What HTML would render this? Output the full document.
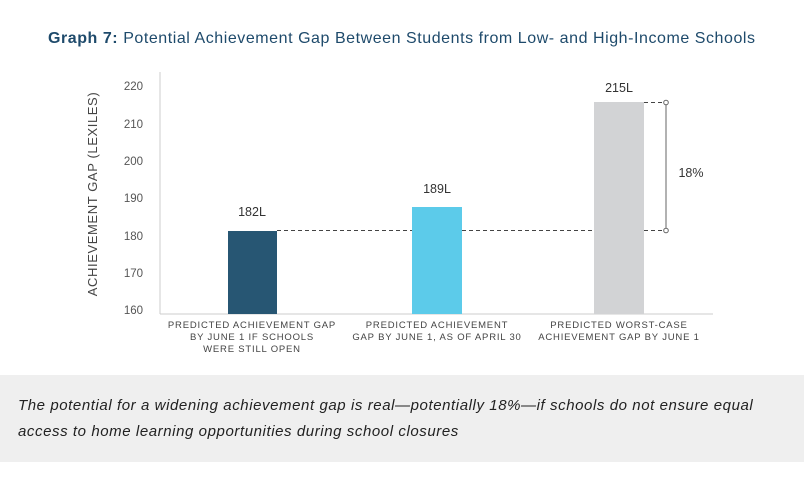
<!DOCTYPE html>
<html><head><meta charset="utf-8"><style>
body{margin:0;width:804px;height:477px;background:#fff;font-family:"Liberation Sans",sans-serif;position:relative;overflow:hidden}
.t{position:absolute;white-space:nowrap}
</style></head><body>
<div class="t" style="left:48px;top:30px;font-size:16px;letter-spacing:0.55px;color:#1e4a6b"><b>Graph 7:</b> Potential Achievement Gap Between Students from Low- and High-Income Schools</div>
<svg width="804" height="477" style="position:absolute;left:0;top:0" font-family="Liberation Sans, sans-serif">
<g fill="#555" font-size="11.5" text-anchor="end">
<text x="143" y="90">220</text><text x="143" y="128">210</text><text x="143" y="165">200</text>
<text x="143" y="202">190</text><text x="143" y="240">180</text><text x="143" y="277">170</text><text x="143" y="314">160</text>
</g>
<text transform="translate(97,194) rotate(-90)" text-anchor="middle" font-size="13" letter-spacing="0.6" fill="#444">ACHIEVEMENT GAP (LEXILES)</text>
<line x1="160" y1="72" x2="160" y2="314" stroke="#ccc"/>
<line x1="160" y1="314" x2="713" y2="314" stroke="#ccc"/>
<line x1="277" y1="230.5" x2="412" y2="230.5" stroke="#444" stroke-dasharray="4,3"/>
<line x1="462" y1="230.5" x2="594" y2="230.5" stroke="#444" stroke-dasharray="4,3"/>
<line x1="644" y1="230.5" x2="664" y2="230.5" stroke="#444" stroke-dasharray="4,3"/>
<line x1="644" y1="102.5" x2="664" y2="102.5" stroke="#444" stroke-dasharray="4,3"/>
<rect x="228" y="231" width="49" height="83" fill="#275673"/>
<rect x="412" y="207" width="50" height="107" fill="#5ccbea"/>
<rect x="594" y="102" width="50" height="212" fill="#d2d3d5"/>
<line x1="666" y1="103" x2="666" y2="230" stroke="#666"/>
<circle cx="666" cy="102.5" r="2.3" fill="#fff" stroke="#666"/>
<circle cx="666" cy="230.5" r="2.3" fill="#fff" stroke="#666"/>
<g font-size="12.5" fill="#333" text-anchor="middle">
<text x="252" y="216">182L</text><text x="437" y="193">189L</text><text x="619" y="92">215L</text>
<text x="691" y="177">18%</text>
</g>
<g font-size="9.5" fill="#444" text-anchor="middle" letter-spacing="0.8">
<text x="252" y="328">PREDICTED ACHIEVEMENT GAP</text>
<text x="252" y="340">BY JUNE 1 IF SCHOOLS</text>
<text x="252" y="352">WERE STILL OPEN</text>
<text x="437" y="328">PREDICTED ACHIEVEMENT</text>
<text x="437" y="340">GAP BY JUNE 1, AS OF APRIL 30</text>
<text x="619" y="328">PREDICTED WORST-CASE</text>
<text x="619" y="340">ACHIEVEMENT GAP BY JUNE 1</text>
</g>
</svg>
<div style="position:absolute;left:0;top:375px;width:804px;height:87px;background:#efefef"></div>
<div class="t" style="left:18px;top:393px;font-size:15px;letter-spacing:0.58px;font-style:italic;color:#222;line-height:26px">The potential for a widening achievement gap is real—potentially 18%—if schools do not ensure equal<br>access to home learning opportunities during school closures</div>
</body></html>
